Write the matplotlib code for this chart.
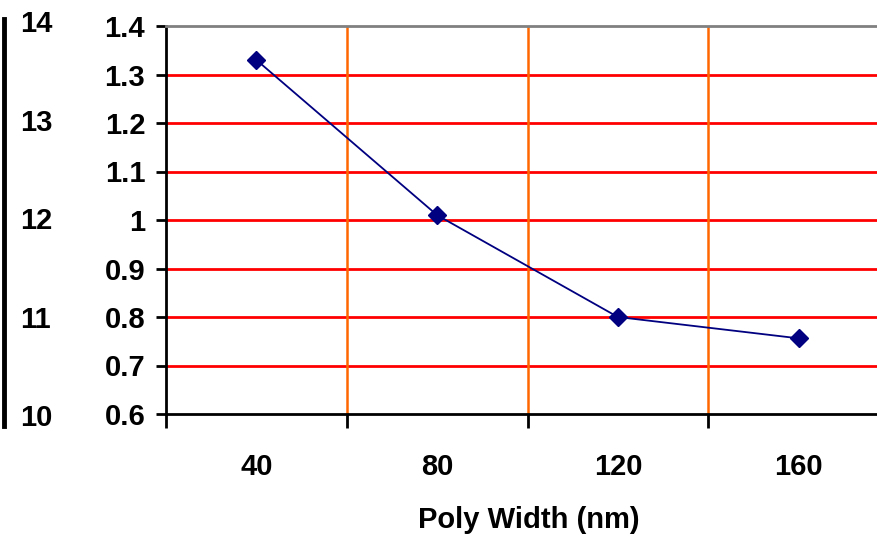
import matplotlib.pyplot as plt

# poly width categories and the measured values
widths = [40, 80, 120, 160]
values = [1.33, 1.01, 0.80, 0.756]
width_labels = ['40', '80', '120', '160']
y_ticks = [0.6, 0.7, 0.8, 0.9, 1.0, 1.1, 1.2, 1.3, 1.4]
y_tick_labels = ['0.6', '0.7', '0.8', '0.9', '1', '1.1', '1.2', '1.3', '1.4']
left_ticks = [10, 11, 12, 13, 14]
boundaries = [20, 60, 100, 140, 180]

plt.rcParams['font.family'] = ['Liberation Sans', 'DejaVu Sans']
fs = 21

fig = plt.figure(figsize=(8.78, 5.36), dpi=100)

# main chart, its right edge runs off the picture
ax = fig.add_axes([166 / 878, 1 - 414 / 536, (889 - 166) / 878, (414 - 26) / 536])
ax.set_xlim(20, 180)
ax.set_ylim(0.6, 1.4)

for v in y_ticks[1:-1]:
    ax.axhline(v, color='#ff0000', lw=2.0, zorder=1)
for b in boundaries[1:-1]:
    ax.axvline(b, color='#ff6600', lw=1.8, zorder=1)

ax.plot(widths, values, color='#000080', lw=1.3, marker='D', ms=9,
        markerfacecolor='#000080', markeredgecolor='#000080', zorder=3)

ax.spines['right'].set_visible(False)
ax.spines['top'].set_color('#808080')
ax.spines['top'].set_linewidth(2.0)
ax.spines['left'].set_linewidth(2.0)
ax.spines['bottom'].set_linewidth(2.0)

ax.set_yticks(y_ticks)
ax.set_yticklabels(y_tick_labels, fontsize=fs, fontweight='bold')
ax.tick_params(axis='y', length=7, width=2.0, pad=8)

ax.set_xticks(widths)
ax.set_xticklabels(width_labels, fontsize=fs, fontweight='bold')
ax.set_xticks(boundaries, minor=True)
ax.tick_params(axis='x', which='major', length=0, pad=28)
ax.tick_params(axis='x', which='minor', length=10, width=2.0)

fig.text(529 / 878, 1 - 528 / 536, 'Poly Width (nm)', fontsize=fs, fontweight='bold',
         ha='center', va='baseline')

# cut-off axis of the neighbouring chart on the far left
ax2 = fig.add_axes([0.0, 1 - 426 / 536, 0.004, (426 - 19) / 536])
ax2.set_ylim(9.89, 14.025)
ax2.set_xticks([])
for s in ['left', 'top', 'bottom']:
    ax2.spines[s].set_visible(False)
ax2.spines['right'].set_linewidth(3.5)
ax2.yaxis.tick_right()
ax2.set_yticks(left_ticks)
ax2.set_yticklabels([str(t) for t in left_ticks], fontsize=fs, fontweight='bold')
ax2.tick_params(axis='y', length=0, pad=12)
ax2.patch.set_alpha(0)

fig.savefig('out.png', dpi=100)
